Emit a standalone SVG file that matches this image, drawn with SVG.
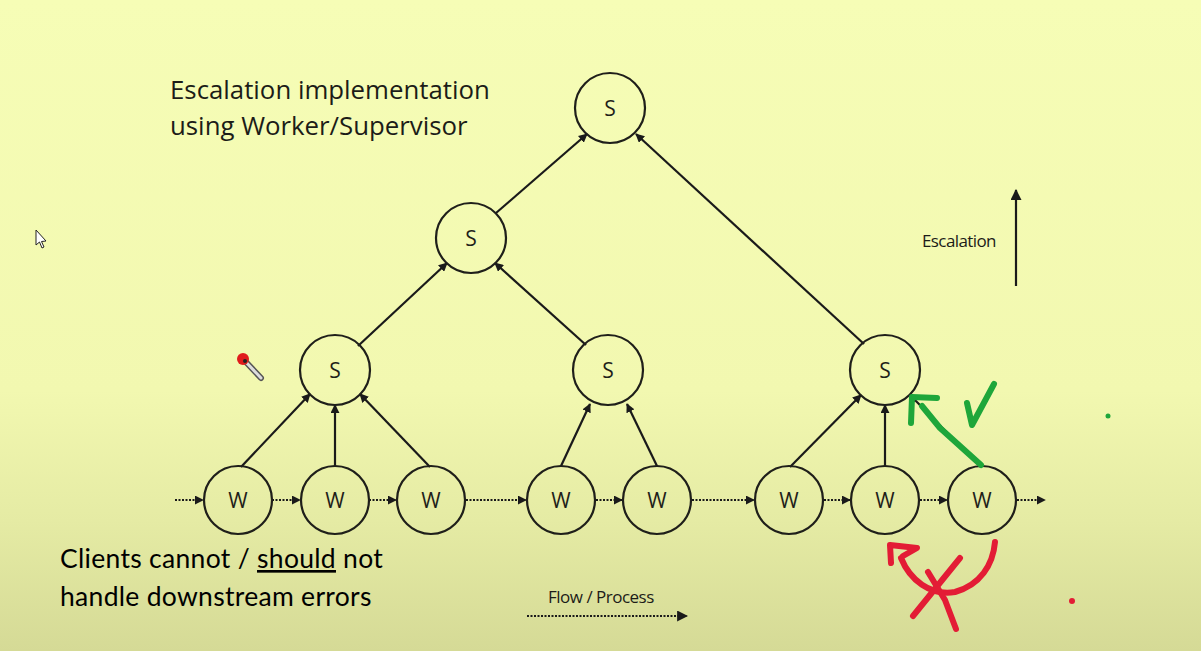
<svg xmlns="http://www.w3.org/2000/svg" width="1201" height="651" viewBox="0 0 1201 651">
<defs>
<linearGradient id="bg" x1="0" y1="0" x2="0" y2="1">
<stop offset="0" stop-color="#f6fdb6"/>
<stop offset="0.6" stop-color="#f2f8b0"/>
<stop offset="0.8" stop-color="#e5eba4"/>
<stop offset="1" stop-color="#d5da96"/>
</linearGradient>
<marker id="ah" viewBox="0 0 10 10" refX="9" refY="5" markerWidth="9" markerHeight="9" markerUnits="userSpaceOnUse" orient="auto">
<path d="M0,0 L10,5 L0,10 z" fill="#1a1a1a"/>
</marker>
<marker id="ah2" viewBox="0 0 10 10" refX="9" refY="5" markerWidth="11" markerHeight="11" markerUnits="userSpaceOnUse" orient="auto">
<path d="M0,0 L10,5 L0,10 z" fill="#1a1a1a"/>
</marker>
</defs>
<style>
.node circle{fill:none;stroke:#1f1f1a;stroke-width:2.2}
.node text{font-family:"Open Sans","DejaVu Sans",sans-serif;font-size:21px;fill:#1f1f1a;text-anchor:middle}
.edge{stroke:#1a1a1a;stroke-width:2.2;fill:none;marker-end:url(#ah)}
.flow{stroke:#1a1a1a;stroke-width:2.2;stroke-dasharray:2 1.5;fill:none;marker-end:url(#ah)}
.lbl{font-family:"Open Sans","DejaVu Sans",sans-serif;fill:#1c1c18}
.big{font-family:"Lato","Open Sans",sans-serif;fill:#000;font-size:26.5px;letter-spacing:0.3px}
.ink{fill:none;stroke-linecap:round;stroke-linejoin:round}
</style>
<rect x="0" y="0" width="1201" height="651" fill="url(#bg)"/>

<text class="lbl" x="170" y="99" font-size="25.8">Escalation implementation</text>
<text class="lbl" x="170" y="135" font-size="25.8">using Worker/Supervisor</text>

<g id="connectors">
<line class="edge" x1="241" y1="467" x2="310" y2="394"/>
<line class="edge" x1="335" y1="466" x2="335" y2="405"/>
<line class="edge" x1="430" y1="467" x2="360" y2="394"/>
<line class="edge" x1="561" y1="466" x2="590" y2="404"/>
<line class="edge" x1="657" y1="466" x2="627" y2="404"/>
<line class="edge" x1="790" y1="467" x2="861" y2="395"/>
<line class="edge" x1="885" y1="466" x2="885" y2="405"/>
<line class="edge" x1="981" y1="467" x2="910" y2="395"/>
<line class="edge" x1="358" y1="346" x2="447" y2="263"/>
<line class="edge" x1="586" y1="345" x2="495" y2="263"/>
<line class="edge" x1="496" y1="213" x2="587" y2="134"/>
<line class="edge" x1="864" y1="344" x2="636" y2="134"/>
<line class="flow" x1="175" y1="500" x2="203" y2="500"/>
<line class="flow" x1="272" y1="500" x2="300" y2="500"/>
<line class="flow" x1="369" y1="500" x2="396" y2="500"/>
<line class="flow" x1="466" y1="500" x2="526" y2="500"/>
<line class="flow" x1="596" y1="500" x2="622" y2="500"/>
<line class="flow" x1="692" y1="500" x2="754" y2="500"/>
<line class="flow" x1="824" y1="500" x2="850" y2="500"/>
<line class="flow" x1="920" y1="500" x2="947" y2="500"/>
<line class="flow" x1="1017" y1="500" x2="1045" y2="500"/>
<line class="edge" style="marker-end:url(#ah2)" x1="1016" y1="286" x2="1016" y2="190"/>
<line class="flow" style="marker-end:url(#ah2)" x1="527" y1="616" x2="687" y2="616"/>
</g>

<g id="s-top" class="node"><circle cx="610" cy="108" r="35"/><text x="610" y="116">S</text></g>
<g id="s-mid" class="node"><circle cx="471" cy="238" r="35"/><text x="471" y="246">S</text></g>
<g id="s-left" class="node"><circle cx="335" cy="370" r="35"/><text x="335" y="378">S</text></g>
<g id="s-center" class="node"><circle cx="608" cy="370" r="35"/><text x="608" y="378">S</text></g>
<g id="s-right" class="node"><circle cx="885" cy="370" r="35"/><text x="885" y="378">S</text></g>
<g id="w1" class="node"><circle cx="238" cy="500" r="34"/><text x="238" y="508">W</text></g>
<g id="w2" class="node"><circle cx="335" cy="500" r="34"/><text x="335" y="508">W</text></g>
<g id="w3" class="node"><circle cx="431" cy="500" r="34"/><text x="431" y="508">W</text></g>
<g id="w4" class="node"><circle cx="561" cy="500" r="34"/><text x="561" y="508">W</text></g>
<g id="w5" class="node"><circle cx="657" cy="500" r="34"/><text x="657" y="508">W</text></g>
<g id="w6" class="node"><circle cx="789" cy="500" r="34"/><text x="789" y="508">W</text></g>
<g id="w7" class="node"><circle cx="885" cy="500" r="34"/><text x="885" y="508">W</text></g>
<g id="w8" class="node"><circle cx="982" cy="500" r="34"/><text x="982" y="508">W</text></g>

<text class="lbl" x="922" y="247" font-size="17" letter-spacing="-0.6">Escalation</text>
<text class="lbl" x="548" y="603" font-size="17" letter-spacing="-0.5">Flow / Process</text>

<text class="big" x="60" y="568">Clients cannot / <tspan text-decoration="underline">should</tspan> not</text>
<text class="big" x="60" y="606">handle downstream errors</text>

<!-- green annotation -->
<g id="green-ink" class="ink" stroke="#1ea63a" stroke-width="6">
<path d="M981,465 L940,428 L922,406"/>
<path d="M911,423 L912,397 L937,398"/>
<path d="M967,403 L972,425 L994,384"/>
<circle cx="1108" cy="416" r="2.5" fill="#1ea63a" stroke="none"/>
</g>
<!-- red annotation -->
<g id="red-ink" class="ink" stroke="#e31c35" stroke-width="6">
<path d="M995,542 C993,565 980,585 955,592 C930,596 910,580 901,558"/>
<path d="M891,563 L890,545 L917,548 L903,556"/>
<path d="M960,558 L913,616"/>
<path d="M928,572 L945,600 L956,629"/>
<circle cx="1072" cy="601" r="3" fill="#e31c35" stroke="none"/>
</g>
<!-- cursor and pen -->
<path d="M36,230 L36,245 L39.5,242 L42,248 L44,247 L41.5,241.5 L46,241 Z" fill="#fff" stroke="#222" stroke-width="1"/>
<g id="pen">
<line x1="244" y1="360" x2="261" y2="378" stroke="#555" stroke-width="6" stroke-linecap="round"/>
<line x1="244" y1="360" x2="261" y2="378" stroke="#ddd" stroke-width="3" stroke-linecap="round"/>
<circle cx="243" cy="359" r="6" fill="#e01b1b"/>
<circle cx="245" cy="361" r="2" fill="#222"/>
</g>
</svg>
